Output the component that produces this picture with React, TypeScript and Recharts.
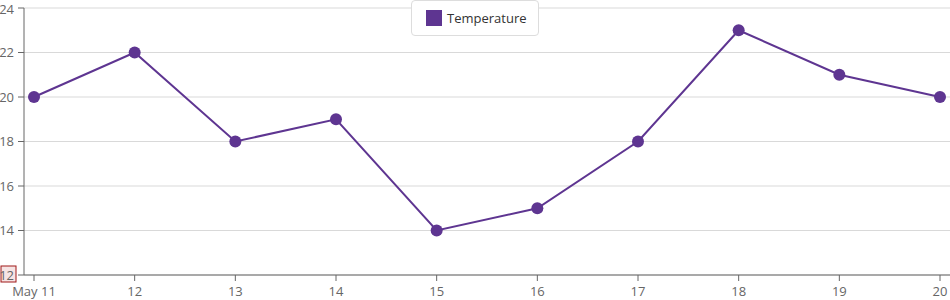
import { LineChart, Line, XAxis, YAxis, CartesianGrid } from 'recharts';

const days = ['May 11', '12', '13', '14', '15', '16', '17', '18', '19', '20'];
const temperature = [20, 22, 18, 19, 14, 15, 18, 23, 21, 20];
const yTicks = [12, 14, 16, 18, 20, 22, 24];

const LINE_COLOR = '#5e3591';
const FONT = '"Segoe UI", "Open Sans", sans-serif';

const data = days.map((day, i) => ({ day, Temperature: temperature[i] }));

// y tick; the bottom one carries the red highlight box seen in the reference
const YTick = (props: any) => {
  const { x, y, payload } = props;
  const highlight = payload.value === 12;
  return (
    <g>
      {highlight && (
        <rect x={x - 13} y={y - 9} width={15} height={16} fill="#f6e4e4" stroke="#a01818" strokeWidth={1} />
      )}
      <text x={x} y={y} dy={4.5} textAnchor="end" fill="#666" fontSize={13} fontFamily={FONT}>
        {payload.value}
      </text>
    </g>
  );
};

const App = () => {
  return (
    <>
      <style>{'body { margin: 0; }'}</style>
      <div style={{ position: 'relative', width: 950, height: 300 }}>
        <LineChart width={950} height={300} data={data} margin={{ top: 8, right: 0, bottom: 0, left: 0 }}>
          <CartesianGrid vertical={false} stroke="#d9d9d9" />
          <XAxis
            dataKey="day"
            height={25}
            padding={{ left: 10, right: 10 }}
            stroke="#666"
            tickSize={6}
            tickMargin={6}
            tick={{ fill: '#666', fontSize: 13, fontFamily: FONT }}
            tickLine={{ stroke: '#666' }}
            interval={0}
          />
          <YAxis
            width={24}
            domain={[12, 24]}
            ticks={yTicks}
            stroke="#666"
            tickSize={6}
            tickMargin={4}
            tick={<YTick />}
          />
          <Line
            type="linear"
            dataKey="Temperature"
            stroke={LINE_COLOR}
            strokeWidth={2}
            dot={{ r: 6, fill: LINE_COLOR, stroke: LINE_COLOR, strokeWidth: 0 }}
            activeDot={false}
            isAnimationActive={false}
          />
        </LineChart>
        <div
          style={{
            position: 'absolute',
            left: 411,
            top: 0,
            width: 128,
            height: 36,
            boxSizing: 'border-box',
            background: '#fff',
            border: '1px solid #ddd',
            borderRadius: 4,
            display: 'flex',
            alignItems: 'center',
            paddingLeft: 14,
            fontFamily: FONT,
            fontSize: 13,
            color: '#333',
          }}
        >
          <span style={{ width: 16, height: 16, background: LINE_COLOR, marginRight: 5, display: 'inline-block' }} />
          Temperature
        </div>
      </div>
    </>
  );
};

export default App;
